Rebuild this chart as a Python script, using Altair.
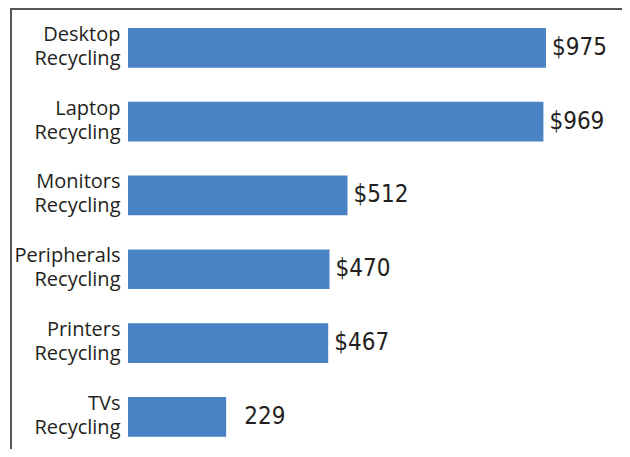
import altair as alt
import pandas as pd

categories = ["Desktop Recycling", "Laptop Recycling", "Monitors Recycling",
              "Peripherals Recycling", "Printers Recycling", "TVs Recycling"]
values = [975, 969, 512, 470, 467, 229]
labels = ["$975", "$969", "$512", "$470", "$467", "229"]

df = pd.DataFrame({"cat": categories, "val": values, "lab": labels})
df["dollar"] = df["lab"].str.startswith("$")

TXT = "#231f20"
BAR = "#4a83c4"
VFONT = "DejaVu Sans Condensed"

y_scale = alt.Scale(paddingInner=0.462, paddingOuter=0, range=[20, 428.7])
y_enc = alt.Y("cat:N", sort=categories, scale=y_scale,
              axis=alt.Axis(title=None, ticks=False, tickSize=0, domain=False,
                            labelExpr="split(datum.label, ' ')",
                            labelFont="Open Sans", labelFontSize=20,
                            labelColor=TXT, labelLineHeight=24,
                            labelPadding=8, labelBaseline="alphabetic",
                            labelOffset=-7))
x_enc = alt.X("val:Q", scale=alt.Scale(domain=[0, 1152.3], nice=False),
              axis=None)
y_plain = alt.Y("cat:N", sort=categories, scale=y_scale)

base = alt.Chart(df)
bars = base.mark_bar(color=BAR).encode(x=x_enc, y=y_enc)

lab1 = base.transform_filter("datum.dollar").mark_text(
    align="left", baseline="middle", dx=6, font=VFONT,
    fontSize=24, color=TXT).encode(x=x_enc, y=y_plain, text="lab:N")
lab2 = base.transform_filter("!datum.dollar").mark_text(
    align="left", baseline="middle", dx=18, font=VFONT,
    fontSize=24, color=TXT).encode(x=x_enc, y=y_plain, text="lab:N")

frame_top = alt.Chart(df.head(1)).mark_rule(color="#555555", strokeWidth=2).encode(
    x=alt.value(-117), x2=alt.value(500), y=alt.value(1))
frame_left = alt.Chart(df.head(1)).mark_rule(color="#555555", strokeWidth=2).encode(
    x=alt.value(-117), y=alt.value(0), y2=alt.value(441))

chart = alt.layer(frame_top, frame_left, bars, lab1, lab2).properties(
    width=494, height=441,
    autosize=alt.AutoSizeParams(type="none"),
    padding={"left": 120, "top": 0, "right": 0, "bottom": 0},
).configure_view(stroke=None)

chart.save("out.html", embed_options={"renderer": "svg", "actions": False})
